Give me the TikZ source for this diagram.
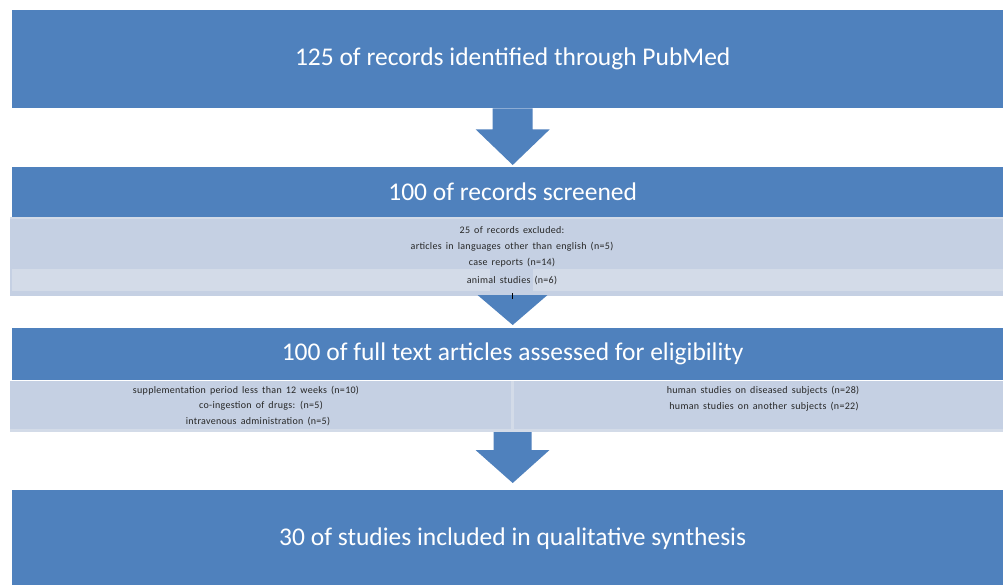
\documentclass[tikz,border=0pt]{standalone}
\usepackage{fontspec}
\setmainfont{Carlito}
\newfontfamily\notefont[WordSpace=1.6,LetterSpace=3]{Carlito}
\usetikzlibrary{calc}
\definecolor{flowblue}{HTML}{4F81BD}
\definecolor{panelblue}{HTML}{C5D0E3}
\definecolor{panellight}{HTML}{D3DBE8}
\tikzset{
  hdr/.style={fill=flowblue, draw=none, text=white, font=\fontsize{25.5}{28}\selectfont,
    anchor=north west, minimum width=1001pt, inner sep=0pt},
  panel/.style={fill=panelblue, draw=none, anchor=north west, inner sep=0pt},
  small/.style={font=\notefont\fontsize{10}{12}\selectfont, text=black!85, inner sep=0pt},
  arrowfill/.style={fill=flowblue, draw=none}
}
% block arrow: #1 top centre, #2 shaft length, #3 tip, #4 shaft half width, #5 head half width
\newcommand\blockarrow[5]{%
  \fill[arrowfill] ($#1+(-#4,0)$) -- ($#1+(-#4,#2)$) -- ($#1+(-#5,#2)$) -- #3
    -- ($#1+(#5,#2)$) -- ($#1+(#4,#2)$) -- ($#1+(#4,0)$) -- cycle;}
\begin{document}
\begin{tikzpicture}[x=1pt,y=-1pt]
\clip (0,0) rectangle (1003,584);
\fill[white] (0,0) rectangle (1003,584);

% stage boxes
\node[hdr, minimum height=98pt] (b1) at (12,10) {125 of records identified through PubMed};
\node[hdr, minimum height=50pt] (b2) at (12,167) {100 of records screened};
\node[hdr, minimum height=52pt] (b3) at (12,328) {100 of full text articles assessed for eligibility};
\node[hdr, minimum height=96pt] (b4) at (12,490) {30 of studies included in qualitative synthesis};

% arrows between stages
\coordinate (t1) at ($(b2.north)+(0,-2)$);
\blockarrow{(b1.south)}{21}{(t1)}{20}{37}

% exclusion panel under the screening box
\node[panel, minimum width=1005pt, minimum height=79pt] (p2) at (10,217) {};
\fill[panellight] (12,269) rectangle (1015,291);
\fill[panelblue] (490,269) rectangle (533,291);
\fill[panellight] (10,217) rectangle (1015,219);

\coordinate (a2) at (512.5,295);
\coordinate (t2) at ($(b3.north)+(0,-3)$);
\fill[arrowfill] ($(a2)+(-35,0)$) -- (t2) -- ($(a2)+(35,0)$) -- cycle;
\draw[black, line width=0.6pt] (512.5,293) -- (512.5,299);

\node[small] (e0) at (512,230) {25 of records excluded:};
\node[small] (e1) at (512,247) {articles in languages other than english (n=5)};
\node[small] (e2) at (512,263) {case reports (n=14)};
\node[small] (e3) at (512,281) {animal studies (n=6)};

% eligibility exclusions, two panels
\node[panel, minimum width=501pt, minimum height=51pt] (p3l) at (10,381) {};
\node[panel, minimum width=501pt, minimum height=51pt] (p3r) at (514,381) {};
\fill[panellight] (511,381) rectangle (514,432);
\fill[panellight] (10,429) rectangle (1015,432);

\node[small] (l1) at (246,391) {supplementation period less than 12 weeks (n=10)};
\node[small] (l2) at (261,406) {co-ingestion of drugs: (n=5)};
\node[small] (l3) at (258,422) {intravenous administration (n=5)};
\node[small] (r1) at (763,391) {human studies on diseased subjects (n=28)};
\node[small] (r2) at (764,407) {human studies on another subjects (n=22)};

\coordinate (a3) at (512.5,432);
\coordinate (t3) at ($(b4.north)+(0,-7)$);
\blockarrow{(a3)}{18}{(t3)}{19}{37}
\end{tikzpicture}
\end{document}
